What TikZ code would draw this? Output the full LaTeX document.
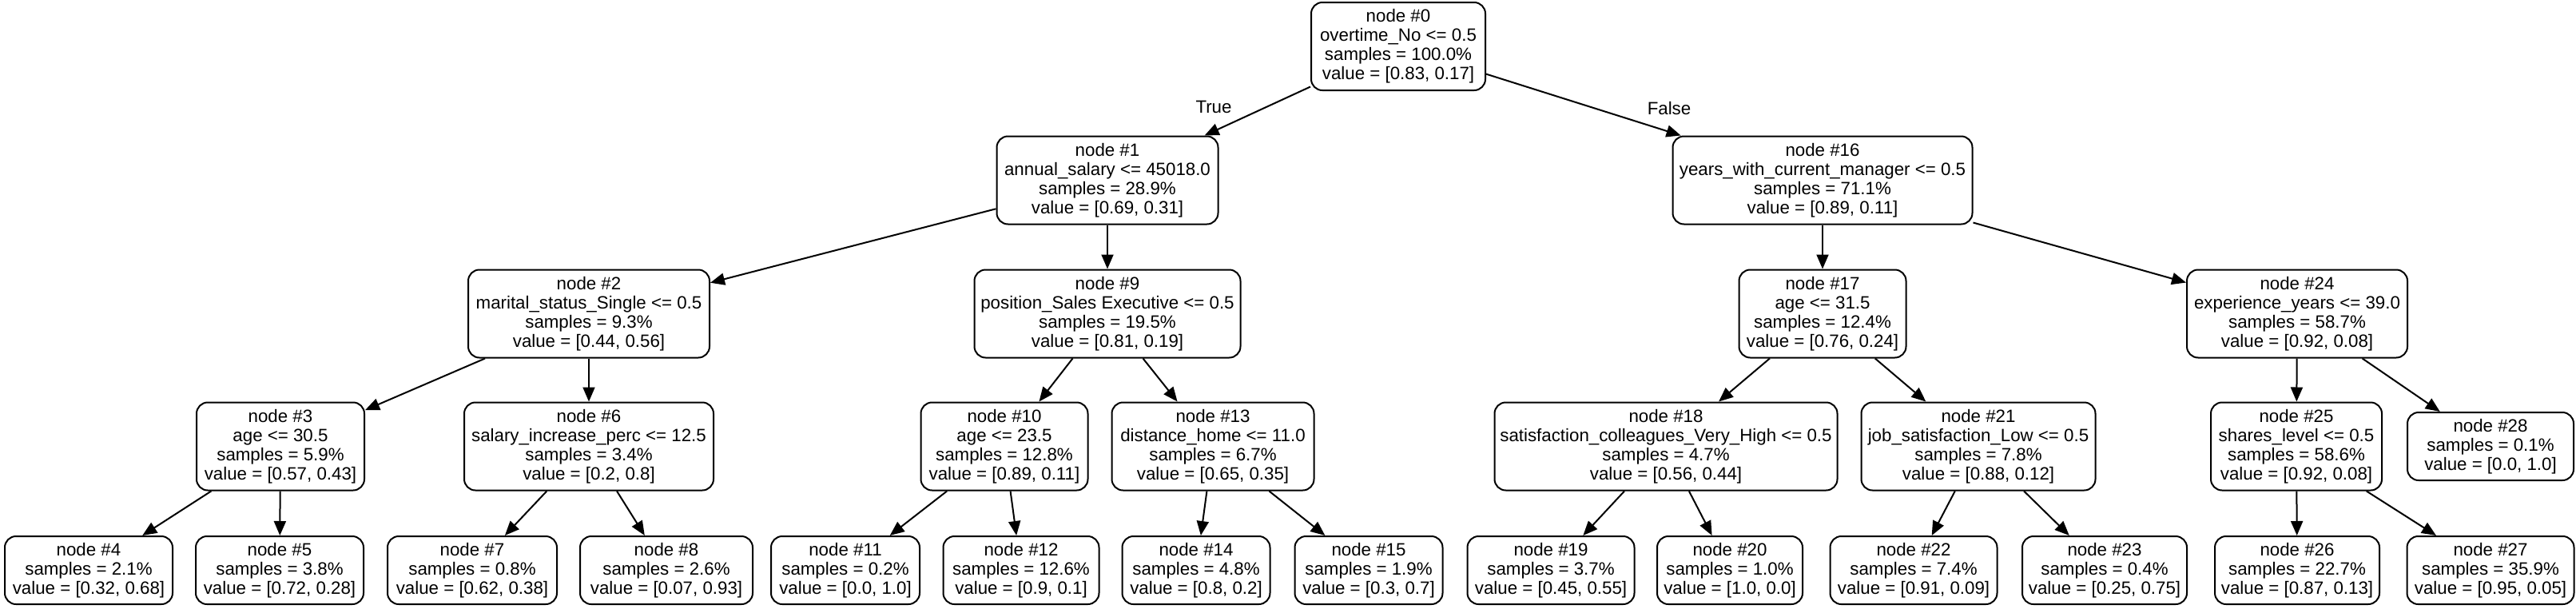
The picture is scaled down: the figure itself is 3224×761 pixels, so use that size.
\documentclass[tikz,border=0pt]{standalone}
\usepackage{fontspec}
\setmainfont{Liberation Sans}
\usetikzlibrary{arrows.meta}
\tikzset{
  tn/.style={draw, rounded corners=14pt, line width=2pt, align=center, inner sep=0pt,
    minimum height=110pt, font=\fontsize{22.3}{24}\selectfont},
  leaf/.style={tn, minimum height=85pt},
  edge/.style={line width=2pt, -{Triangle[length=18pt,width=15pt]}},
  elabel/.style={font=\fontsize{22.3}{24}\selectfont, inner sep=0pt}
}
\begin{document}
\begin{tikzpicture}[x=1pt,y=-1pt]
\fill[white] (0,0) rectangle (3224,761);
\useasboundingbox (0,0) rectangle (3224,761);
% level 0
\node[tn, minimum width=218pt] (n0) at (1750,58) {node \#0\\ overtime\_No <= 0.5\\ samples = 100.0\%\\ value = [0.83, 0.17]};
% level 1
\node[tn, minimum width=277pt] (n1) at (1386,225.5) {node \#1\\ annual\_salary <= 45018.0\\ samples = 28.9\%\\ value = [0.69, 0.31]};
\node[tn, minimum width=375pt] (n16) at (2281,225.5) {node \#16\\ years\_with\_current\_manager <= 0.5\\ samples = 71.1\%\\ value = [0.89, 0.11]};
% level 2
\node[tn, minimum width=302pt] (n2) at (737,392.5) {node \#2\\ marital\_status\_Single <= 0.5\\ samples = 9.3\%\\ value = [0.44, 0.56]};
\node[tn, minimum width=333pt] (n9) at (1386,392.5) {node \#9\\ position\_Sales Executive <= 0.5\\ samples = 19.5\%\\ value = [0.81, 0.19]};
\node[tn, minimum width=209pt] (n17) at (2281,392.5) {node \#17\\ age <= 31.5\\ samples = 12.4\%\\ value = [0.76, 0.24]};
\node[tn, minimum width=276pt] (n24) at (2875,392.5) {node \#24\\ experience\_years <= 39.0\\ samples = 58.7\%\\ value = [0.92, 0.08]};
% level 3
\node[tn, minimum width=210pt] (n3) at (351,558.5) {node \#3\\ age <= 30.5\\ samples = 5.9\%\\ value = [0.57, 0.43]};
\node[tn, minimum width=312pt] (n6) at (737,558.5) {node \#6\\ salary\_increase\_perc <= 12.5\\ samples = 3.4\%\\ value = [0.2, 0.8]};
\node[tn, minimum width=209pt] (n10) at (1257,558.5) {node \#10\\ age <= 23.5\\ samples = 12.8\%\\ value = [0.89, 0.11]};
\node[tn, minimum width=253pt] (n13) at (1518,558.5) {node \#13\\ distance\_home <= 11.0\\ samples = 6.7\%\\ value = [0.65, 0.35]};
\node[tn, minimum width=429pt] (n18) at (2085,558.5) {node \#18\\ satisfaction\_colleagues\_Very\_High <= 0.5\\ samples = 4.7\%\\ value = [0.56, 0.44]};
\node[tn, minimum width=293pt] (n21) at (2476,558.5) {node \#21\\ job\_satisfaction\_Low <= 0.5\\ samples = 7.8\%\\ value = [0.88, 0.12]};
\node[tn, minimum width=214pt] (n25) at (2874,558.5) {node \#25\\ shares\_level <= 0.5\\ samples = 58.6\%\\ value = [0.92, 0.08]};
\node[leaf, minimum width=208pt] (n28) at (3117,558.5) {node \#28\\ samples = 0.1\%\\ value = [0.0, 1.0]};
% level 4
\node[leaf, minimum width=210pt] (n4) at (111,713.5) {node \#4\\ samples = 2.1\%\\ value = [0.32, 0.68]};
\node[leaf, minimum width=210pt] (n5) at (350,713.5) {node \#5\\ samples = 3.8\%\\ value = [0.72, 0.28]};
\node[leaf, minimum width=212pt] (n7) at (591,713.5) {node \#7\\ samples = 0.8\%\\ value = [0.62, 0.38]};
\node[leaf, minimum width=216pt] (n8) at (834,713.5) {node \#8\\ samples = 2.6\%\\ value = [0.07, 0.93]};
\node[leaf, minimum width=186pt] (n11) at (1058,713.5) {node \#11\\ samples = 0.2\%\\ value = [0.0, 1.0]};
\node[leaf, minimum width=195pt] (n12) at (1278,713.5) {node \#12\\ samples = 12.6\%\\ value = [0.9, 0.1]};
\node[leaf, minimum width=185pt] (n14) at (1497,713.5) {node \#14\\ samples = 4.8\%\\ value = [0.8, 0.2]};
\node[leaf, minimum width=185pt] (n15) at (1713,713.5) {node \#15\\ samples = 1.9\%\\ value = [0.3, 0.7]};
\node[leaf, minimum width=209pt] (n19) at (1941,713.5) {node \#19\\ samples = 3.7\%\\ value = [0.45, 0.55]};
\node[leaf, minimum width=182pt] (n20) at (2165,713.5) {node \#20\\ samples = 1.0\%\\ value = [1.0, 0.0]};
\node[leaf, minimum width=209pt] (n22) at (2395,713.5) {node \#22\\ samples = 7.4\%\\ value = [0.91, 0.09]};
\node[leaf, minimum width=206pt] (n23) at (2634,713.5) {node \#23\\ samples = 0.4\%\\ value = [0.25, 0.75]};
\node[leaf, minimum width=206pt] (n26) at (2875,713.5) {node \#26\\ samples = 22.7\%\\ value = [0.87, 0.13]};
\node[leaf, minimum width=209pt] (n27) at (3117,713.5) {node \#27\\ samples = 35.9\%\\ value = [0.95, 0.05]};
% edge labels
\node[elabel] (ltrue) at (1519,134) {True};
\node[elabel] (lfalse) at (2089,136) {False};
% edges
\foreach \a/\b in {n0/n1, n0/n16, n1/n2, n1/n9, n2/n3, n2/n6, n3/n4, n3/n5, n6/n7, n6/n8,
  n9/n10, n9/n13, n10/n11, n10/n12, n13/n14, n13/n15, n16/n17, n16/n24, n17/n18, n17/n21,
  n18/n19, n18/n20, n21/n22, n21/n23, n24/n25, n24/n28, n25/n26, n25/n27}
  \draw[edge] (\a) -- (\b);
\end{tikzpicture}
\end{document}
